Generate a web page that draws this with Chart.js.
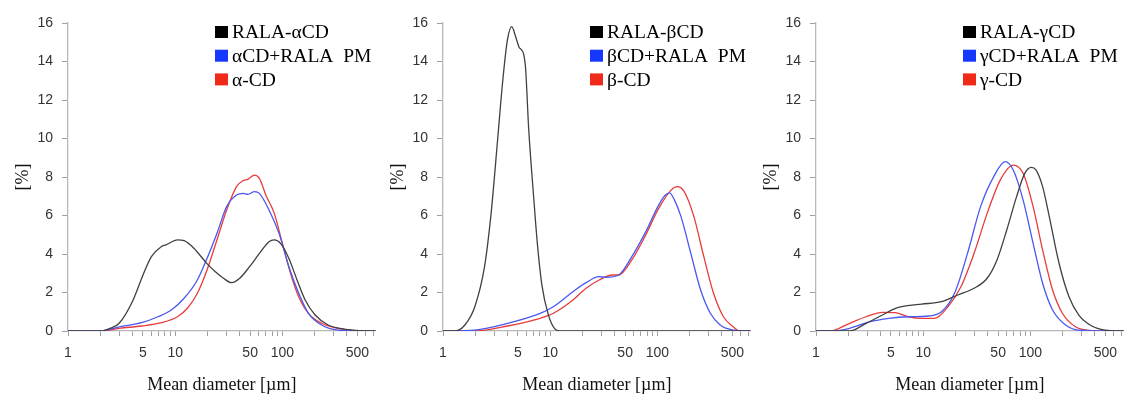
<!DOCTYPE html>
<html>
<head>
<meta charset="utf-8">
<script src="https://cdn.jsdelivr.net/npm/chart.js@4"></script>
<style>
  body { margin: 0; background: #fff; }
  #wrap { position: relative; width: 1130px; height: 396px; }
  #wrap canvas { position: absolute; top: 0; }
</style>
</head>
<body>
<div id="wrap">
  <canvas id="chartA" width="382" height="396" style="left:0px"></canvas>
  <canvas id="chartB" width="382" height="396" style="left:375px"></canvas>
  <canvas id="chartC" width="382" height="396" style="left:748px"></canvas>
</div>
<script>
// x axis: mean diameter [um], log scale
const xTickValues = [1, 2, 3, 4, 5, 6, 7, 8, 9, 10, 20, 30, 40, 50, 60, 70, 80, 90, 100, 200, 300, 400, 500, 600, 700];
const xTickLabels = [1, 5, 10, 50, 100, 500];

// panel 1 - alpha CD
const alphaNames = ["RALA-\u03b1CD", "\u03b1CD+RALA  PM", "\u03b1-CD"];
const alphaComplexX = [1, 2, 2.5, 3, 4, 5, 6, 7.4, 8.2, 10.5, 12.1, 15, 19.8, 24, 28.2, 33.6, 40, 49.4, 61, 75, 84, 96, 115, 137, 163, 202, 267, 380, 540, 740];
const alphaComplexY = [0, 0, 0.15, 0.4, 1.55, 2.9, 3.86, 4.38, 4.47, 4.73, 4.69, 4.29, 3.5, 3.05, 2.74, 2.51, 2.74, 3.34, 4.03, 4.64, 4.73, 4.55, 3.77, 2.65, 1.61, 0.83, 0.31, 0.1, 0.02, 0];
const alphaMixX = [1, 2, 3, 4.86, 6.9, 9.2, 12.1, 16.1, 19.8, 24.5, 30.2, 37.3, 43, 47.7, 55, 61, 75, 93, 115, 142, 175, 232, 330, 740];
const alphaMixY = [0, 0, 0.22, 0.43, 0.74, 1.09, 1.7, 2.65, 3.77, 5.07, 6.46, 7.06, 7.15, 7.1, 7.24, 7.15, 6.29, 5.07, 3.34, 1.96, 0.92, 0.31, 0.05, 0];
const alphaCdX = [1, 2, 3, 4.86, 7.4, 10.5, 13, 16.1, 19.8, 24.5, 30.2, 37.3, 43, 47.7, 55, 61, 70, 84, 100, 119, 142, 175, 232, 330, 470, 740];
const alphaCdY = [0, 0, 0.14, 0.26, 0.43, 0.74, 1.18, 1.96, 3.17, 4.73, 6.29, 7.5, 7.81, 7.88, 8.1, 7.93, 7.07, 6.11, 4.55, 3.0, 1.78, 0.92, 0.4, 0.14, 0.02, 0];

// panel 2 - beta CD
const betaNames = ["RALA-\u03b2CD", "\u03b2CD+RALA  PM", "\u03b2-CD"];
const betaComplexX = [1, 1.3, 1.6, 1.98, 2.44, 2.81, 3.23, 3.59, 3.99, 4.38, 4.76, 5.1, 5.67, 5.9, 6.3, 7.0, 7.6, 8.36, 9.6, 11.1, 12.5, 740];
const betaComplexY = [0, 0, 0.31, 1.26, 3.34, 6.11, 9.92, 12.87, 15.12, 15.81, 15.29, 14.77, 14.34, 13.6, 10.5, 7.0, 4.5, 2.4, 0.85, 0.1, 0, 0];
const betaMixX = [1, 1.98, 4.0, 8.07, 10.7, 16.3, 21.6, 28.6, 32.9, 43.6, 57.7, 76.4, 101, 118, 130, 143, 166, 205, 253, 312, 385, 510, 740];
const betaMixY = [0, 0.05, 0.4, 0.92, 1.26, 2.04, 2.51, 2.82, 2.79, 2.91, 3.86, 5.07, 6.46, 7.05, 7.18, 6.85, 5.94, 4.03, 2.13, 0.92, 0.31, 0.05, 0];
const betaCdX = [1, 1.98, 4.0, 8.07, 10.7, 16.3, 21.6, 28.6, 37.9, 43.6, 57.7, 76.4, 101, 134, 154, 178, 219, 271, 334, 413, 510, 587, 740];
const betaCdY = [0, 0, 0.26, 0.66, 0.92, 1.61, 2.22, 2.65, 2.91, 2.91, 3.69, 4.9, 6.29, 7.32, 7.5, 7.24, 5.94, 3.86, 1.96, 0.74, 0.22, 0, 0];

// panel 3 - gamma CD
const gammaNames = ["RALA-\u03b3CD", "\u03b3CD+RALA  PM", "\u03b3-CD"];
const gammaComplexX = [1, 2.06, 2.93, 4.17, 5.52, 6.81, 9.68, 14.8, 21, 29.8, 39.5, 48.8, 60.2, 74.3, 88.6, 102, 113, 130, 150, 185, 229, 283, 374, 496, 740];
const gammaComplexY = [0, 0, 0.4, 0.83, 1.18, 1.3, 1.4, 1.52, 1.87, 2.22, 2.74, 3.69, 5.25, 6.98, 8.19, 8.5, 8.36, 7.5, 5.94, 3.52, 1.78, 0.83, 0.26, 0.05, 0];
const gammaMixX = [1, 1.4, 2.06, 3.15, 4.8, 7.3, 11.1, 14.8, 19.6, 25.9, 34.3, 45.5, 58.1, 69.2, 85.5, 106, 130, 161, 213, 283, 740];
const gammaMixY = [0, 0, 0.14, 0.48, 0.66, 0.74, 0.78, 1.0, 1.96, 4.03, 6.46, 8.02, 8.8, 8.36, 6.8, 4.55, 2.48, 1.09, 0.31, 0.05, 0];
const gammaCdX = [1, 1.35, 2.06, 2.93, 4.17, 5.52, 7.3, 9.68, 12.8, 17, 22.5, 29.8, 39.5, 52.3, 69.2, 85.5, 106, 130, 161, 199, 263, 374, 740];
const gammaCdY = [0, 0, 0.4, 0.74, 0.97, 0.95, 0.74, 0.66, 0.66, 1.26, 2.3, 4.03, 6.11, 7.84, 8.62, 8.19, 6.46, 4.21, 2.13, 0.92, 0.22, 0.02, 0];

const lineColors = ["#404040", "#4a58f0", "#e83c3c"];
const boxColors = ["#000000", "#1438ff", "#f02a18"];
const sansFont = "'Liberation Sans', Arial, sans-serif";
const serifFont = "'Liberation Serif', 'Times New Roman', serif";

// legend drawn inside the plot, top right
const boxLegend = {
    id: "boxLegend",
    afterDraw(chart) {
        const ctx = chart.ctx;
        const left = chart.chartArea.left + 147;
        const top = chart.chartArea.top;
        ctx.save();
        ctx.font = "19.5px " + serifFont;
        ctx.textBaseline = "middle";
        chart.data.datasets.forEach((ds, i) => {
            const cy = top + 9 + i * 23.7;
            ctx.fillStyle = boxColors[i];
            ctx.fillRect(left, cy - 6, 13, 12);
            ctx.fillStyle = "#000";
            ctx.fillText(ds.label, left + 17, cy + 1);
        });
        ctx.restore();
    }
};

function makePanel(canvasId, names, xs, ys) {
    const datasets = names.map((name, i) => ({
        label: name,
        data: xs[i].map((x, j) => ({ x: x, y: ys[i][j] })),
        borderColor: lineColors[i],
        backgroundColor: boxColors[i],
        borderWidth: 1.3,
        pointRadius: 0,
        cubicInterpolationMode: "monotone",
    }));

    return new Chart(document.getElementById(canvasId), {
        type: "line",
        data: { datasets: datasets },
        plugins: [boxLegend],
        options: {
            responsive: false,
            animation: false,
            layout: { padding: { top: 23, right: 0, bottom: 0, left: 0 } },
            plugins: { legend: { display: false }, tooltip: { enabled: false } },
            scales: {
                x: {
                    type: "logarithmic",
                    min: 1,
                    max: 740,
                    bounds: "data",
                    afterBuildTicks: (scale) => {
                        scale.ticks = xTickValues.map((v) => ({ value: v }));
                    },
                    afterFit: (scale) => { scale.height = 65; },
                    ticks: {
                        autoSkip: false,
                        maxRotation: 0,
                        padding: 9,
                        color: "#333",
                        font: { family: sansFont, size: 14 },
                        callback: (value) => (xTickLabels.includes(value) ? String(value) : ""),
                    },
                    grid: { drawOnChartArea: false, tickLength: 5, color: "#a0a0a0" },
                    border: { color: "#b8b8b8", width: 1.3 },
                    title: {
                        display: true,
                        text: "Mean diameter [\u00b5m]",
                        color: "#111",
                        font: { family: serifFont, size: 18 },
                        padding: { top: 0, bottom: 0 },
                    },
                },
                y: {
                    min: 0,
                    max: 16,
                    afterFit: (scale) => { scale.width = 68; },
                    ticks: { stepSize: 2, padding: 9, color: "#333", font: { family: sansFont, size: 14 } },
                    grid: { drawOnChartArea: false, tickLength: 6, color: "#a0a0a0" },
                    border: { color: "#b8b8b8", width: 1.3 },
                    title: {
                        display: true,
                        text: "[%]",
                        color: "#111",
                        font: { family: serifFont, size: 18 },
                        padding: { top: 12, bottom: 0 },
                    },
                },
            },
        },
    });
}

makePanel("chartA", alphaNames, [alphaComplexX, alphaMixX, alphaCdX], [alphaComplexY, alphaMixY, alphaCdY]);
makePanel("chartB", betaNames, [betaComplexX, betaMixX, betaCdX], [betaComplexY, betaMixY, betaCdY]);
makePanel("chartC", gammaNames, [gammaComplexX, gammaMixX, gammaCdX], [gammaComplexY, gammaMixY, gammaCdY]);
</script>
</body>
</html>
